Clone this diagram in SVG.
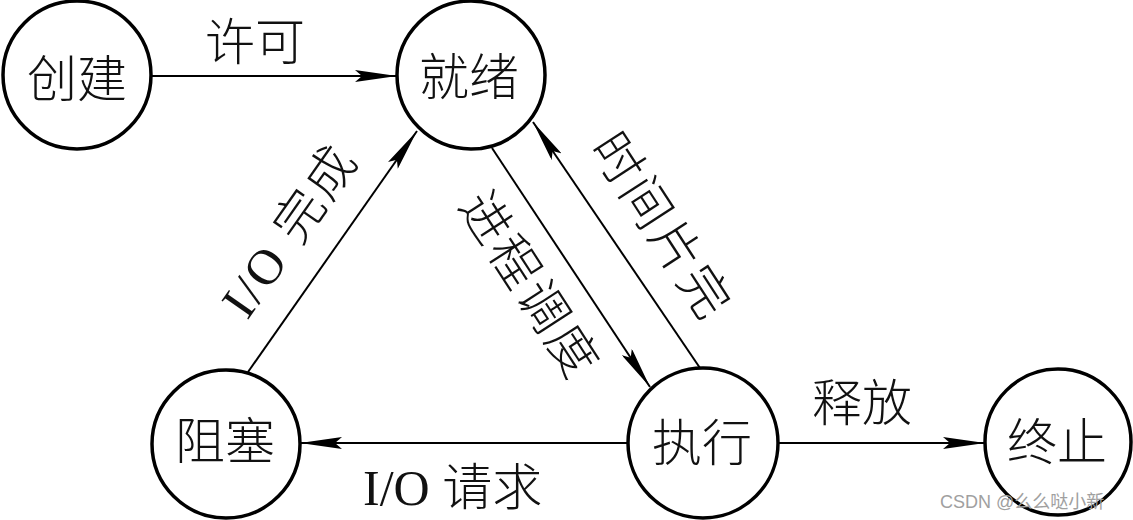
<svg xmlns="http://www.w3.org/2000/svg" width="1133" height="520" viewBox="0 0 1133 520">
<defs>
<marker id="arr" viewBox="0 0 42 12" refX="42" refY="6" markerWidth="42" markerHeight="12" markerUnits="userSpaceOnUse" orient="auto">
<path d="M0,0 L42,6 L0,12 L7,6 z" fill="#000"/>
</marker>
<style>
.node circle{fill:#fff;stroke:#000;stroke-width:3.5}
.node text{font-family:"Noto Sans CJK SC","Liberation Sans",sans-serif;font-size:50px;font-weight:300;fill:#111;text-anchor:middle}
.edge{stroke:#000;stroke-width:2;fill:none;marker-end:url(#arr)}
.lbl{font-family:"Liberation Serif","Noto Sans CJK SC",serif;font-size:50px;font-weight:300;fill:#111}
.rl{text-anchor:middle;letter-spacing:3px}
</style>
</defs>
<rect width="1133" height="520" fill="#fff"/>
<g id="connectors">
<line class="edge" x1="151" y1="76" x2="397" y2="76"/>
<line class="edge" x1="248" y1="372" x2="417" y2="131"/>
<line class="edge" x1="492" y1="148" x2="650" y2="387"/>
<line class="edge" x1="700" y1="368" x2="533" y2="122"/>
<line class="edge" x1="628" y1="443" x2="300" y2="443"/>
<line class="edge" x1="778" y1="443" x2="985" y2="443"/>
<text class="lbl" x="205" y="60">许可</text>
<text class="lbl rl" transform="translate(289,230) rotate(-55)" y="18">I/O 完成</text>
<text class="lbl rl" transform="translate(530,285) rotate(57)" y="18">进程调度</text>
<text class="lbl rl" transform="translate(662,226) rotate(57)" y="18">时间片完</text>
<text class="lbl" x="812" y="421">释放</text>
<text class="lbl" x="363" y="505">I/O 请求</text>
</g>
<g id="node-create" class="node"><circle cx="77" cy="75" r="74"/><text x="77" y="97">创建</text></g>
<g id="node-ready" class="node"><circle cx="471" cy="75" r="74"/><text x="469" y="95">就绪</text></g>
<g id="node-blocked" class="node"><circle cx="226" cy="444" r="74"/><text x="225" y="459">阻塞</text></g>
<g id="node-running" class="node"><circle cx="703" cy="443" r="75"/><text x="702" y="461">执行</text></g>
<g id="node-exit" class="node"><circle cx="1058" cy="442" r="73"/><text x="1057" y="460">终止</text></g>
<text x="940" y="508" font-family="'Liberation Sans','Noto Sans CJK SC',sans-serif" font-size="18" fill="#a0a0a0">CSDN @么么哒小新</text>
</svg>
